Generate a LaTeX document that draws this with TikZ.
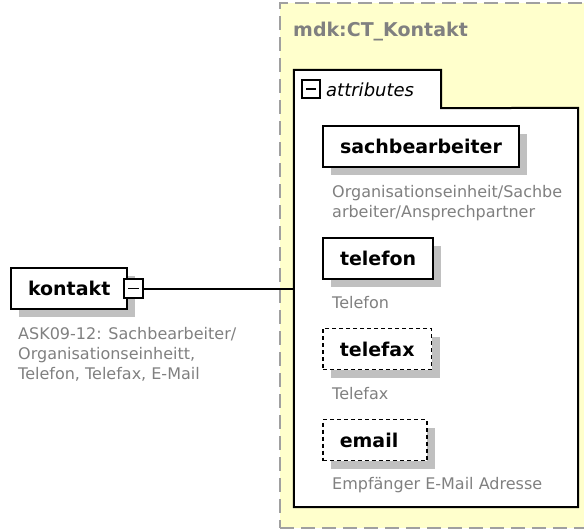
\documentclass[tikz,border=0pt]{standalone}
\usepackage{fontspec}
\setmainfont{DejaVu Sans}
\usetikzlibrary{shadows}
\definecolor{ctfill}{RGB}{255, 255, 204}
\definecolor{ctline}{RGB}{160, 160, 160}
\definecolor{doctext}{RGB}{128, 128, 128}
\definecolor{shade}{RGB}{192, 192, 192}
\tikzset{
    elem/.style={rectangle, draw=black, line width=2pt, fill=white, minimum height=41pt, inner xsep=17pt, font=\fontsize{19}{23}\selectfont\bfseries, general shadow={fill=shade, shadow xshift=8pt, shadow yshift=-8pt}},
    optelem/.style={elem, line width=1.6pt, dash pattern=on 4pt off 3pt},
    doc/.style={anchor=north west, inner sep=0pt, align=left, text=doctext, font=\fontsize{16}{20}\selectfont},
    minusbox/.style={rectangle, draw=black, line width=1.6pt, fill=white, minimum size=19pt, inner sep=0pt, path picture={\draw[line width=1.8pt] ([xshift=4pt]path picture bounding box.west) -- ([xshift=-4pt]path picture bounding box.east);}},
    ctbox/.style={rectangle, draw=ctline, line width=1.5pt, dash pattern=on 14pt off 7pt, fill=ctfill, inner sep=0pt},
    groupbox/.style={rectangle, fill=white, inner sep=0pt},
    conn/.style={line width=2pt, black}
}

\begin{document}
\begin{tikzpicture}[x=1pt, y=-1pt]
        \useasboundingbox (0,0) rectangle (584,531);
        \clip (0,0) rectangle (584,531);

        \node[ctbox, minimum width=340pt, minimum height=525pt] (ct) at (450,265.5) {};
        \node[anchor=west, inner sep=0pt, text=doctext, font=\fontsize{19}{23}\selectfont\bfseries] (cttitle) at (293,32) {mdk:CT\_Kontakt};

        \node[groupbox, minimum width=284pt, minimum height=399pt] (attrs) at (436,307.5) {};
        \node[groupbox, minimum width=147pt, minimum height=38pt] (tab) at (367.5,89) {};
        \draw[line width=2pt] (attrs.south west) -- (tab.north west) -- (tab.north east) -- (tab.south east) -- (attrs.north east) -- (attrs.south east) -- cycle;
        \node[minusbox, minimum size=18pt] (tabminus) at (311,89) {};
        \node[anchor=west, inner sep=0pt, font=\fontsize{18}{22}\selectfont\itshape] (tablabel) at (326,90) {attributes};

        \node[elem, anchor=west] (sach) at (322,146.5) {sachbearbeiter};
        \node[doc] (sachdoc) at (332,185.6) {Organisationseinheit/Sachbe\\arbeiter/Ansprechpartner};
        \node[elem, anchor=west] (tel) at (322,258) {telefon};
        \node[doc] (teldoc) at (332,296.6) {Telefon};
        \node[optelem, anchor=west] (fax) at (322,349) {telefax};
        \node[doc] (faxdoc) at (332,387.6) {Telefax};
        \node[optelem, anchor=west, text width=70pt, align=left] (mail) at (322,440) {email};
        \node[doc] (maildoc) at (332,477.6) {Empfänger E-Mail Adresse};

        \node[elem, anchor=west] (kontakt) at (10,288) {kontakt\hspace{7pt}};
        \node[minusbox] (kminus) at (133.5,288.5) {};
        \node[doc] (kontaktdoc) at (18,327.6) {ASK09-12: Sachbearbeiter/\\Organisationseinheitt,\\Telefon, Telefax, E-Mail};

        \draw[conn] (kminus.east) -- (kminus.east -| attrs.west);
    \end{tikzpicture}
\end{document}
